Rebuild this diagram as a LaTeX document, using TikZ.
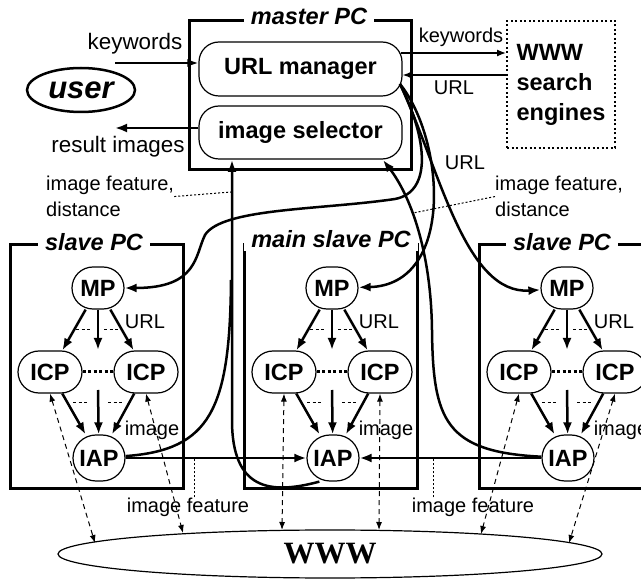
\documentclass[tikz,border=0pt]{standalone}
\usepackage{fontspec}
\setmainfont{Liberation Sans}
\newfontfamily\wwwfont{Liberation Serif}
\usetikzlibrary{arrows.meta,shapes.geometric}

\tikzset{
  proc/.style={draw,line width=1.2pt,rounded corners=21pt,minimum height=42pt,inner sep=2pt,
    font=\bfseries\fontsize{23.5}{26}\selectfont},
  mgr/.style={draw,line width=1.2pt,rounded corners=20pt,minimum width=203pt,
    font=\bfseries\fontsize{23.5}{26}\selectfont},
  pcbox/.style={line width=3pt},
  pctitle/.style={fill=white,inner xsep=7pt,inner ysep=3pt,
    font=\bfseries\itshape\fontsize{23.5}{26}\selectfont},
  lbl/.style={inner sep=0pt,font=\fontsize{20}{26}\selectfont},
  biglbl/.style={inner sep=0pt,font=\fontsize{22.4}{26}\selectfont},
  bigarrow/.style={line width=2.5pt,-{Latex[length=12pt,width=9pt]}},
  midarrow/.style={line width=2pt,-{Latex[length=11pt,width=8pt]}},
  thinarrow/.style={line width=1.3pt,-{Latex[length=9pt,width=7pt]}},
  flow/.style={line width=2.5pt},
  flowarrow/.style={line width=2.5pt,-{Latex[length=12pt,width=9pt]}},
  webarrow/.style={line width=1pt,dash pattern=on 5pt off 4pt,
    {Latex[length=8pt,width=6pt]}-{Latex[length=8pt,width=6pt]}},
  gapdash/.style={line width=1pt,dash pattern=on 3pt off 2.5pt},
  icpdots/.style={line width=3pt,dash pattern=on 3pt off 2.5pt},
  pointer/.style={line width=1pt,dash pattern=on 2pt off 2pt},
  usr/.style={ellipse,draw,line width=2.5pt,minimum width=108pt,minimum height=44pt,inner sep=0pt,
    font=\bfseries\itshape\fontsize{31}{34}\selectfont},
  sebox/.style={draw,line width=2pt,dash pattern=on 2pt off 2.5pt,minimum width=108pt,
    minimum height=127pt,align=left,font=\bfseries\fontsize{23.5}{30}\selectfont}
}

\begin{document}
\begin{tikzpicture}[x=1pt,y=-1pt]
    \useasboundingbox (0,0) rectangle (641,580);
    \clip (0,0) rectangle (641,580);

    % master PC
    \draw[pcbox] (189,21) rectangle (411,170);
    \node[pctitle] (mtitle) at (309,16) {master PC};
    \node[mgr,minimum height=54pt] (url) at (300.5,69) {URL manager};
    \node[mgr,minimum height=53pt] (isel) at (300.5,132.5) {image selector};

    \node[usr] (user) at (81,90) {user};
    \node[sebox] (se) at (561,84.5) {WWW\\search\\engines};

    \coordinate (kwin) at (115,63);
    \draw[midarrow] (kwin) -- (kwin -| url.west);
    \node[biglbl] (kwlbl) at (135,44) {keywords};
    \coordinate (resout) at (115,128);
    \draw[bigarrow] (resout -| isel.west) -- (resout);
    \node[biglbl] (reslbl) at (118,147) {result images};

    \coordinate (kwout) at (401,53);
    \draw[thinarrow] (kwout) -- (kwout -| se.west);
    \node[lbl] (kwlbl2) at (461,37) {keywords};
    \coordinate (urlin) at (507,75);
    \draw[thinarrow] (urlin) -- (urlin -| url.east);
    \node[lbl] (urllbl) at (454,88) {URL};

    % slave PC (left)
    \begin{scope}
      \draw[pcbox] (10,245) rectangle (183,489);
      \node[pctitle] (s1title) at (94,242) {slave PC};
      \node[proc,minimum width=52pt] (s1mp) at (98,288) {MP};
      \node[proc,minimum width=64pt] (s1icpl) at (50,372) {ICP};
      \node[proc,minimum width=64pt] (s1icpr) at (146,372) {ICP};
      \node[proc,minimum width=52pt,minimum height=46pt,rounded corners=23pt] (s1iap) at (99,458) {IAP};
      \coordinate (s1mid) at (98,350);
      \coordinate (s1low) at (98,390);
      \draw[bigarrow] (s1mp) -- (s1icpl);
      \draw[bigarrow] (s1mp) -- (s1icpr);
      \draw[bigarrow] (s1mp) -- (s1mid);
      \draw[bigarrow] (s1icpl) -- (s1iap);
      \draw[bigarrow] (s1icpr) -- (s1iap);
      \draw[bigarrow] (s1low) -- (s1iap);
      \draw[icpdots] (s1icpl) -- (s1icpr);
      \draw[gapdash] (76,330) -- (90,330) (104,330) -- (118,330);
      \draw[gapdash] (73,403) -- (87,403) (108,403) -- (122,403);
      \node[lbl] at (145,322) {URL};
      \node[lbl] at (152,430) {image};
    \end{scope}

    % main slave PC
    \begin{scope}[xshift=234pt]
      \draw[pcbox] (10,245) rectangle (183,489);
      \node[pctitle] (mtitle2) at (97,239) {main slave PC};
      \node[proc,minimum width=52pt] (mmp) at (98,288) {MP};
      \node[proc,minimum width=64pt] (micpl) at (50,372) {ICP};
      \node[proc,minimum width=64pt] (micpr) at (146,372) {ICP};
      \node[proc,minimum width=52pt,minimum height=46pt,rounded corners=23pt] (miap) at (99,458) {IAP};
      \coordinate (mmid) at (98,350);
      \coordinate (mlow) at (98,390);
      \draw[bigarrow] (mmp) -- (micpl);
      \draw[bigarrow] (mmp) -- (micpr);
      \draw[bigarrow] (mmp) -- (mmid);
      \draw[bigarrow] (micpl) -- (miap);
      \draw[bigarrow] (micpr) -- (miap);
      \draw[bigarrow] (mlow) -- (miap);
      \draw[icpdots] (micpl) -- (micpr);
      \draw[gapdash] (76,330) -- (90,330) (104,330) -- (118,330);
      \draw[gapdash] (73,403) -- (87,403) (108,403) -- (122,403);
      \node[lbl] at (145,322) {URL};
      \node[lbl] at (152,430) {image};
    \end{scope}

    % slave PC (right)
    \begin{scope}[xshift=469pt]
      \draw[pcbox] (10,245) rectangle (183,489);
      \node[pctitle] (s3title) at (93,242) {slave PC};
      \node[proc,minimum width=52pt] (s3mp) at (98,288) {MP};
      \node[proc,minimum width=64pt] (s3icpl) at (50,372) {ICP};
      \node[proc,minimum width=64pt] (s3icpr) at (146,372) {ICP};
      \node[proc,minimum width=52pt,minimum height=46pt,rounded corners=23pt] (s3iap) at (99,458) {IAP};
      \coordinate (s3mid) at (98,350);
      \coordinate (s3low) at (98,390);
      \draw[bigarrow] (s3mp) -- (s3icpl);
      \draw[bigarrow] (s3mp) -- (s3icpr);
      \draw[bigarrow] (s3mp) -- (s3mid);
      \draw[bigarrow] (s3icpl) -- (s3iap);
      \draw[bigarrow] (s3icpr) -- (s3iap);
      \draw[bigarrow] (s3low) -- (s3iap);
      \draw[icpdots] (s3icpl) -- (s3icpr);
      \draw[gapdash] (76,330) -- (90,330) (104,330) -- (118,330);
      \draw[gapdash] (73,403) -- (87,403) (108,403) -- (122,403);
      \node[lbl] at (145,322) {URL};
      \node[lbl] at (152,430) {image};
    \end{scope}

    % URL manager to the MPs
    \coordinate (urlout) at (400,84);
    \draw[flowarrow] (urlout) .. controls (428,140) and (432,192) .. (395,199)
      .. controls (320,210) and (222,208) .. (205,235)
      .. controls (195,255) and (198,288) .. (s1mp);
    \draw[flowarrow] (urlout) .. controls (445,140) and (455,285) .. (mmp);
    \draw[flowarrow] (urlout) .. controls (440,170) and (465,295) .. (s3mp);
    \node[lbl] (urllbl2) at (465,163) {URL};

    % IAPs to the image selector
    \coordinate (selin) at (232,160);
    \coordinate (selin2) at (383,160);
    \draw[bigarrow] (s1iap) -- (miap);
    \draw[bigarrow] (s3iap) -- (miap);
    \draw[flow] (s1iap) .. controls (210,450) and (230,410) .. (231,280);
    \draw[flowarrow] (miap.240) .. controls (270,495) and (232,490) .. (232,420) -- (selin);
    \draw[flowarrow] (s3iap) .. controls (445,452) and (433,420) .. (432,330)
      .. controls (431,250) and (410,195) .. (selin2);

    \node[lbl,align=left,anchor=north west] (ifd1) at (46,176) {image feature,\\distance};
    \node[lbl,align=left,anchor=north west] (ifd2) at (495,176) {image feature,\\distance};
    \coordinate (fdl) at (231,192);
    \coordinate (fdr) at (413,213);
    \draw[pointer] (ifd1.east) -- (fdl);
    \draw[pointer] (ifd2.west) -- (fdr);

    \node[lbl] (if1) at (188,507) {image feature};
    \node[lbl] (if2) at (473,507) {image feature};
    \coordinate (if1top) at ([xshift=6pt]if1.north);
    \coordinate (if2top) at ([xshift=-40pt]if2.north);
    \draw[pointer] (if1top) -- (if1top |- s1iap);
    \draw[pointer] (if2top) -- (if2top |- s3iap);

    % WWW
    \node[ellipse,draw,line width=1.2pt,minimum width=544pt,minimum height=48pt,
      font=\wwwfont\bfseries\fontsize{31}{34}\selectfont] (www) at (330,554) {WWW};
    \coordinate (w1) at (95,543);
    \coordinate (w2) at (183,533);
    \coordinate (w3) at (282,530);
    \coordinate (w4) at (379,530);
    \coordinate (w5) at (481,534);
    \coordinate (w6) at (569,543);
    \draw[webarrow] (s1icpl.south) -- (w1);
    \draw[webarrow] (s1icpr.south) -- (w2);
    \draw[webarrow] (micpl.south) -- (w3);
    \draw[webarrow] (micpr.south) -- (w4);
    \draw[webarrow] (s3icpl.south) -- (w5);
    \draw[webarrow] (s3icpr.south) -- (w6);
\end{tikzpicture}
\end{document}
